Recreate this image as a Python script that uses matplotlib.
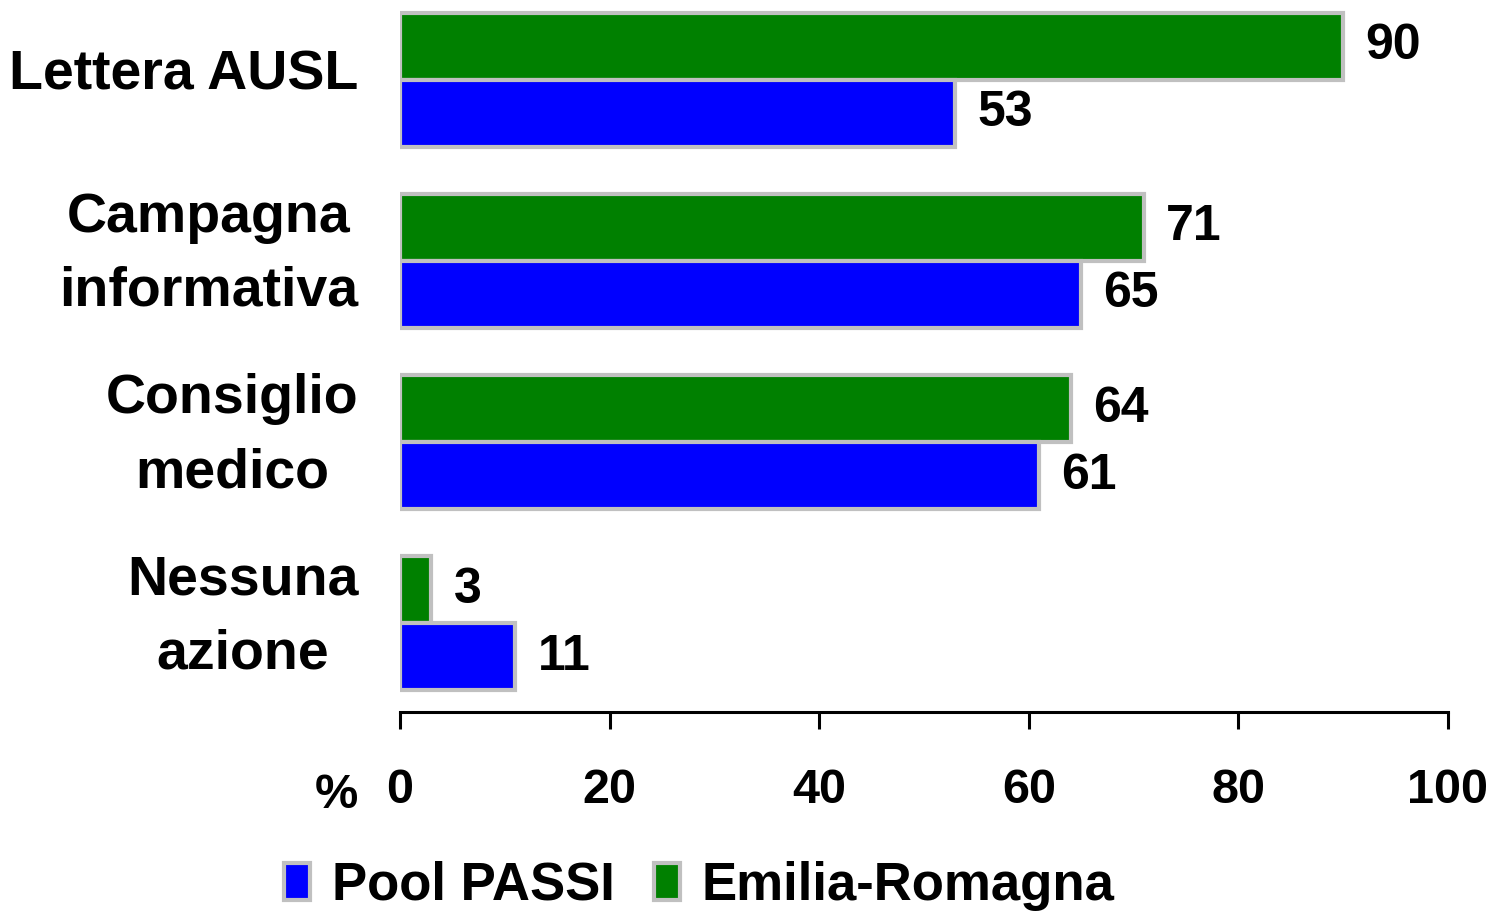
import matplotlib
matplotlib.use("Agg")
import matplotlib.pyplot as plt
import matplotlib.transforms as mtransforms
import numpy as np

categories = ["Lettera AUSL", "Campagna\ninformativa", "Consiglio\nmedico", "Nessuna\nazione"]
pool_passi = [53, 65, 61, 11]
emilia_romagna = [90, 71, 64, 3]
xticks = [0, 20, 40, 60, 80, 100]

plt.rcParams['font.family'] = ['Liberation Sans', 'DejaVu Sans']
plt.rcParams['font.weight'] = 'bold'

fig = plt.figure(figsize=(14.95, 9.13), dpi=100)
ax = fig.add_axes([400/1495, (913-712)/913, 1048/1495, 712/913])

y = np.arange(len(categories))
h = 0.37
edge = '#c0c0c0'
bg = ax.barh(y - h/2, emilia_romagna, height=h, color='#008000', edgecolor=edge, linewidth=3, label='Emilia-Romagna')
bb = ax.barh(y + h/2, pool_passi, height=h, color='#0000ff', edgecolor=edge, linewidth=3, label='Pool PASSI')

for bars, vals in ((bg, emilia_romagna), (bb, pool_passi)):
    for rect, v in zip(bars, vals):
        ax.annotate(f"{v}", xy=(v, rect.get_y() + rect.get_height()/2), xytext=(16, 0),
                    textcoords='offset points', va='center', ha='left',
                    fontsize=36, fontweight='bold')

ax.set_xlim(0, 100)
ax.set_ylim(3.49, -0.44)
ax.set_xticks(xticks)
ax.set_xticklabels([str(t) for t in xticks], fontsize=35, fontweight='bold')
ax.set_yticks(y)
ax.set_yticklabels(categories, fontsize=40, fontweight='bold', multialignment='center', linespacing=1.55)
ax.tick_params(axis='y', length=0, pad=30)
ax.tick_params(axis='x', length=12, width=2.2, pad=28, direction='out')
for lab in ax.get_yticklabels():
    dy = 0.10 if "\n" not in lab.get_text() else 0.23
    lab.set_transform(lab.get_transform() + mtransforms.ScaledTranslation(0, dy, fig.dpi_scale_trans))
for s in ('left', 'right', 'top'):
    ax.spines[s].set_visible(False)
ax.spines['bottom'].set_linewidth(2.2)

ax.text(-0.04, -0.117, "%", transform=ax.transAxes, ha='right', va='center', fontsize=35, fontweight='bold')

handles = [bb, bg]
leg = fig.legend(handles, ['Pool PASSI', 'Emilia-Romagna'], loc='center', bbox_to_anchor=(0.468, 0.030),
                 ncol=2, frameon=False, fontsize=38, handlelength=0.48, handleheight=0.7,
                 handletextpad=0.42, columnspacing=0.75, borderpad=0)

fig.savefig("out.png", dpi=100)
